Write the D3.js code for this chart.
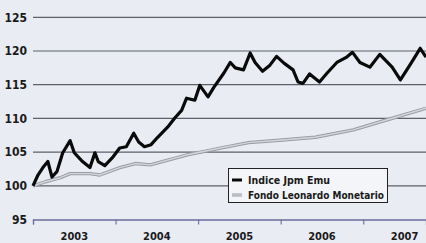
<!DOCTYPE html>
<html><head><meta charset="utf-8">
<script src="https://cdn.jsdelivr.net/npm/d3@7"></script>
<style>
html,body{margin:0;padding:0;background:#e9ecf3;}
svg{display:block;}
text{font-family:"Liberation Sans Narrow","DejaVu Sans Condensed",sans-serif;font-weight:bold;fill:#1a1a1a;}
</style></head><body>
<script>
// Data (decimal year, index value)
const jpmYears = [2003.00,2003.06,2003.12,2003.18,2003.23,2003.29,2003.36,2003.45,2003.50,2003.60,2003.69,2003.75,2003.79,2003.87,2003.97,2004.05,2004.13,2004.22,2004.28,2004.35,2004.43,2004.51,2004.63,2004.72,2004.80,2004.86,2004.96,2005.02,2005.12,2005.19,2005.31,2005.39,2005.45,2005.55,2005.63,2005.69,2005.78,2005.87,2005.95,2006.04,2006.15,2006.21,2006.27,2006.35,2006.47,2006.56,2006.68,2006.80,2006.87,2006.96,2007.08,2007.20,2007.35,2007.45,2007.57,2007.69,2007.76];
const jpmValues = [100.0,101.6,102.7,103.6,101.3,102.1,104.9,106.7,104.9,103.6,102.7,104.9,103.6,103.0,104.3,105.6,105.8,107.8,106.5,105.8,106.1,107.2,108.7,110.1,111.2,113.0,112.7,114.9,113.2,114.6,116.7,118.3,117.5,117.2,119.7,118.3,117.0,117.9,119.2,118.2,117.2,115.4,115.2,116.6,115.4,116.7,118.3,119.1,119.8,118.3,117.6,119.5,117.6,115.7,118.0,120.4,119.1];
const fondoYears = [2003.00,2003.15,2003.33,2003.45,2003.69,2003.81,2004.05,2004.24,2004.42,2004.87,2005.27,2005.61,2006.02,2006.42,2006.88,2007.29,2007.76];
const fondoValues = [100.0,100.6,101.2,101.8,101.8,101.6,102.7,103.3,103.1,104.6,105.6,106.4,106.8,107.2,108.3,109.8,111.5];
const yTicks = [95,100,105,110,115,120,125];
const yearLabels = ["2003","2004","2005","2006","2007"];
const seriesNames = ["Indice Jpm Emu","Fondo Leonardo Monetario"];

const W = 426, H = 243;
const svg = d3.select("body").append("svg").attr("width", W).attr("height", H);
svg.append("rect").attr("width", W).attr("height", H).attr("fill", "#e9ecf3");

const x = d3.scaleLinear().domain([2003, 2007.76]).range([33, 426]);
const y = d3.scaleLinear().domain([95, 125]).range([219.5, 17.3]);

// gridlines
svg.append("g").selectAll("line").data(yTicks.filter(d => d !== 95)).join("line")
  .attr("x1", 33).attr("x2", W)
  .attr("y1", d => y(d)).attr("y2", d => y(d))
  .attr("stroke", "#5d6068").attr("stroke-width", 1.2);

// y labels
svg.append("g").selectAll("text").data(yTicks).join("text")
  .attr("x", 27).attr("y", d => y(d)).attr("dy", "0.36em")
  .attr("text-anchor", "end").attr("font-size", 12)
  .text(d => d);

// x axis
const xAxis = d3.axisBottom(x).tickValues([2003,2004,2005,2006,2007]).tickSize(5).tickFormat("");
const gx = svg.append("g").attr("transform", `translate(0,${y(95)})`).call(xAxis);
gx.select(".domain").attr("stroke", "#6a6c9a").attr("stroke-width", 1.3);
gx.selectAll(".tick line").attr("stroke", "#6a6c9a").attr("stroke-width", 1.1);

svg.append("g").selectAll("text").data(yearLabels).join("text")
  .attr("x", d => x(+d + 0.5)).attr("y", 240)
  .attr("text-anchor", "middle").attr("font-size", 11)
  .text(d => d);

const line = d3.line().x(d => x(d[0])).y(d => y(d[1])).curve(d3.curveLinear);
const fondo = fondoYears.map((t, i) => [t, fondoValues[i]]);
const jpm = jpmYears.map((t, i) => [t, jpmValues[i]]);

svg.append("path").datum(fondo).attr("d", line).attr("fill", "none")
  .attr("stroke", "#9a9ca3").attr("stroke-width", 3.4).attr("stroke-linejoin", "round");
svg.append("path").datum(fondo).attr("d", line).attr("fill", "none")
  .attr("stroke", "#d4d6dc").attr("stroke-width", 1.4).attr("stroke-linejoin", "round");
svg.append("path").datum(jpm).attr("d", line).attr("fill", "none")
  .attr("stroke", "#0a0a0a").attr("stroke-width", 3.2).attr("stroke-linejoin", "round");

// legend
const lg = svg.append("g");
lg.append("rect").attr("x", 228.5).attr("y", 168.5).attr("width", 159).attr("height", 34)
  .attr("fill", "#f4f5f8").attr("stroke", "#222").attr("stroke-width", 1);
lg.append("line").attr("x1", 232).attr("x2", 242).attr("y1", 180).attr("y2", 180)
  .attr("stroke", "#0a0a0a").attr("stroke-width", 3);
lg.append("line").attr("x1", 232).attr("x2", 242).attr("y1", 195).attr("y2", 195)
  .attr("stroke", "#9a9ca3").attr("stroke-width", 3);
lg.append("line").attr("x1", 232).attr("x2", 242).attr("y1", 195).attr("y2", 195)
  .attr("stroke", "#d4d6dc").attr("stroke-width", 1.2);
lg.selectAll("text.lt").data(seriesNames).join("text").attr("class", "lt")
  .attr("x", 248).attr("y", (d, i) => 180 + i * 15).attr("dy", "0.36em")
  .attr("font-size", 11)
  .attr("textLength", (d, i) => i === 0 ? 82 : 136).attr("lengthAdjust", "spacingAndGlyphs")
  .text(d => d);
</script>
</body></html>
